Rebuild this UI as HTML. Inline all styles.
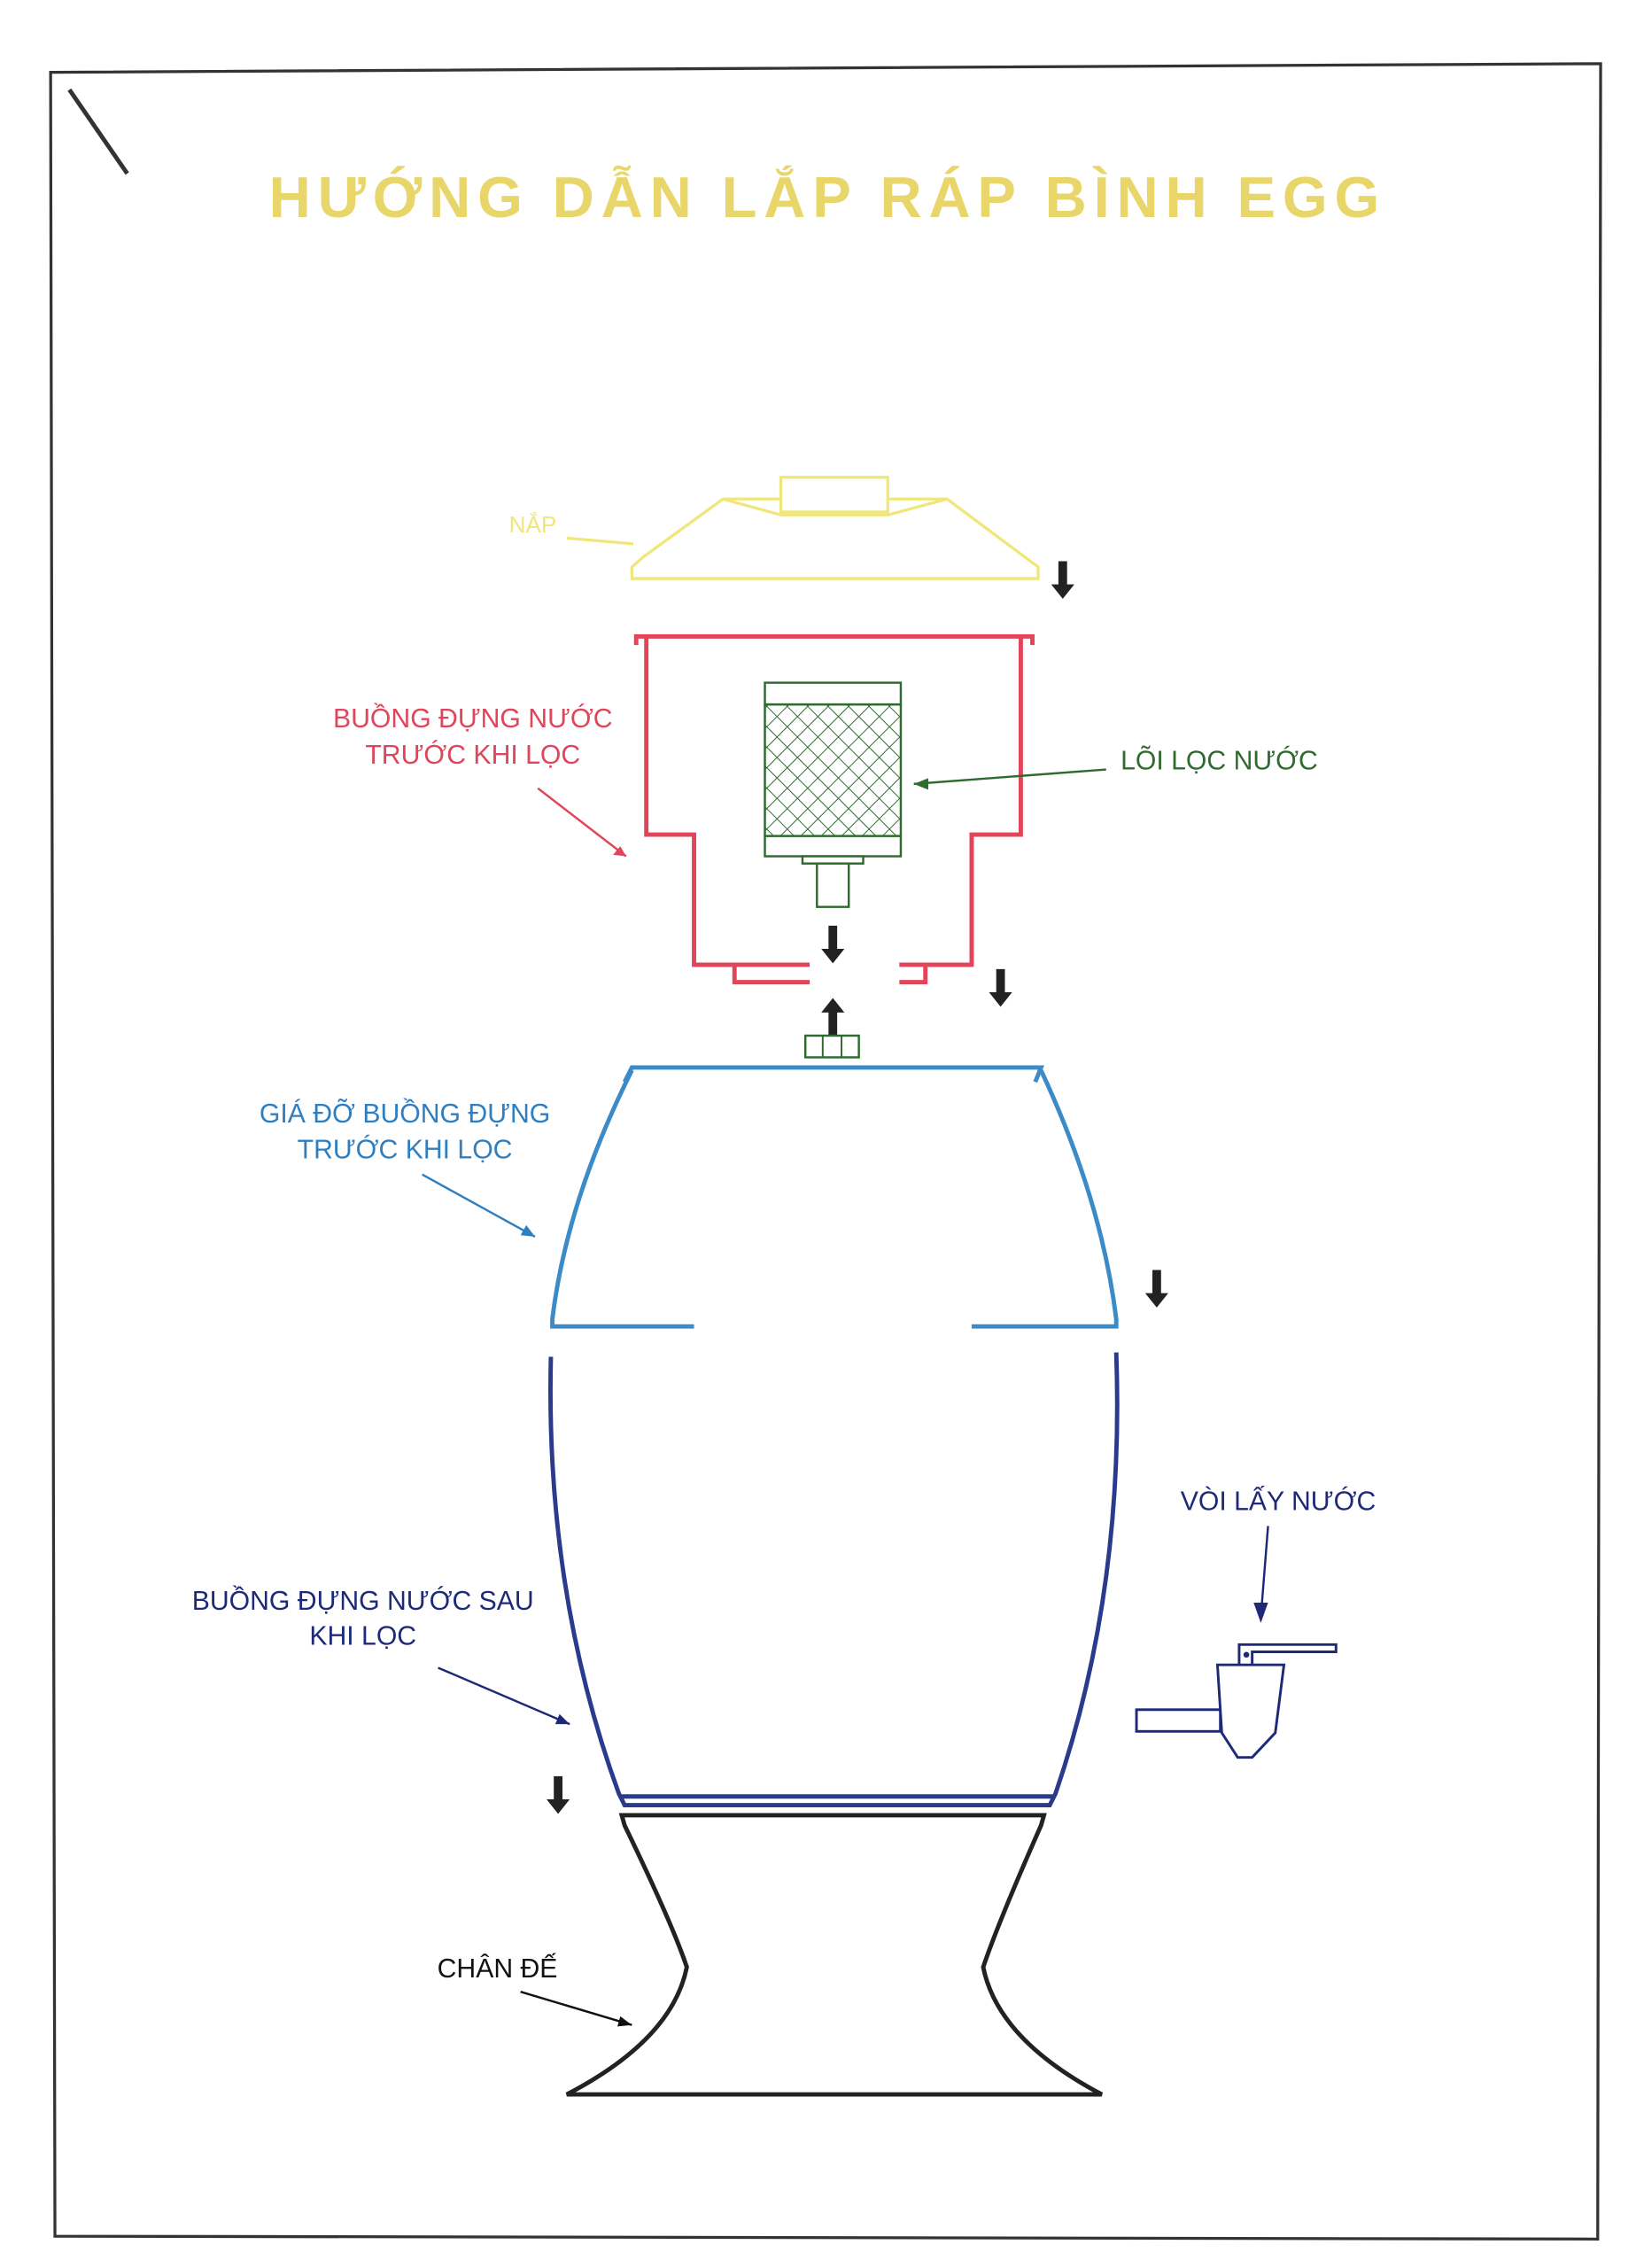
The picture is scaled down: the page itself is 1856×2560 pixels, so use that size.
<!DOCTYPE html>
<html><head><meta charset="utf-8"><style>
html,body{margin:0;padding:0;background:#fff}
svg{display:block}
text{font-family:"Liberation Sans",sans-serif}
</style></head><body>
<svg width="1856" height="2560" viewBox="0 0 1137 1568" preserveAspectRatio="none" xmlns="http://www.w3.org/2000/svg">
<defs>
<pattern id="mesh" width="10" height="10" patternUnits="userSpaceOnUse" patternTransform="rotate(45)">
<path d="M0 0H10M0 0V10" stroke="#2f6b2f" stroke-width="1.2"/>
</pattern>
<g id="ar"><path d="M-3 0H3V16H8L0 26L-8 16H-3Z" fill="#222"/></g>
</defs>
<rect width="1137" height="1568" fill="#fff"/>
<path d="M35 50L1107 44L1105 1548L38 1546Z" fill="none" stroke="#333" stroke-width="2"/>
<path d="M48 62L88 120" stroke="#333" stroke-width="3"/>
<text x="570" y="150" text-anchor="middle" font-size="40" font-weight="bold" fill="#e8d66a" textLength="768" lengthAdjust="spacing">HƯỚNG DẪN LẮP RÁP BÌNH EGG</text>

<!-- lid -->
<g fill="none" stroke="#efe77a" stroke-width="2">
<path d="M437 400H718V392L655 345H500L445 385L437 392Z"/>
<path d="M500 345L540 356H614L655 345"/>
<rect x="540" y="330" width="74" height="24" fill="#fff"/>
<path d="M392 372L438 376"/>
</g>
<text x="352" y="368" font-size="16" fill="#efe77a">NẮP</text>
<use href="#ar" x="735" y="388"/>

<!-- red chamber -->
<g fill="none" stroke="#e0455a" stroke-width="3">
<path d="M440 446V440H714V446M447 440V577H480V667H508V679H560M622 679H640V667H672V577H706V440"/>
<path d="M480 667H560M622 667H672"/>
</g>
<text x="327" y="503" text-anchor="middle" font-size="18.5" fill="#e0455a">BUỒNG ĐỰNG NƯỚC</text>
<text x="327" y="528" text-anchor="middle" font-size="18.5" fill="#e0455a">TRƯỚC KHI LỌC</text>
<path d="M372 545L433 592" stroke="#e0455a" stroke-width="1.5"/>
<path d="M433 592L424 591L429 585Z" fill="#e0455a"/>

<!-- filter -->
<g stroke="#2f6b2f" stroke-width="1.5">
<rect x="529" y="487" width="94" height="91" fill="url(#mesh)"/>
<rect x="529" y="472" width="94" height="15" fill="#fff"/>
<rect x="529" y="578" width="94" height="14" fill="#fff"/>
<rect x="555" y="592" width="42" height="5" fill="#fff"/>
<rect x="565" y="597" width="22" height="30" fill="#fff"/>
</g>
<path d="M765 532L632 542" stroke="#2f6b2f" stroke-width="1.5"/>
<path d="M632 542L642 538L642 546Z" fill="#2f6b2f"/>
<text x="775" y="532" font-size="18.5" fill="#2f6b2f">LÕI LỌC NƯỚC</text>

<use href="#ar" x="576" y="640"/>
<use href="#ar" x="692" y="670"/>
<g transform="translate(576,716) scale(1,-1)"><use href="#ar"/></g>
<rect x="557" y="716" width="37" height="15" fill="none" stroke="#2f6b2f" stroke-width="1.5"/>
<path d="M569 716V731M582 716V731" stroke="#2f6b2f" stroke-width="1.2"/>

<!-- blue holder -->
<g fill="none" stroke="#3a8bc8" stroke-width="3">
<path d="M432 748L437 738H720L716 748"/>
<path d="M437 740Q392 830 382 912V917H480"/>
<path d="M720 740Q762 830 772 912V917H672"/>
</g>
<text x="280" y="776" text-anchor="middle" font-size="18.5" fill="#2f7fc0">GIÁ ĐỠ BUỒNG ĐỰNG</text>
<text x="280" y="801" text-anchor="middle" font-size="18.5" fill="#2f7fc0">TRƯỚC KHI LỌC</text>
<path d="M292 812L370 855" stroke="#2f7fc0" stroke-width="1.5"/>
<path d="M370 855L360 854L364 847Z" fill="#2f7fc0"/>
<use href="#ar" x="800" y="878"/>

<!-- navy lower -->
<g fill="none" stroke="#2a3a8c" stroke-width="3">
<path d="M381 938Q377 1100 428 1240L432 1248H726L730 1240Q778 1100 772 935"/>
<path d="M430 1242H728"/>
</g>
<text x="251" y="1113" text-anchor="middle" font-size="18.5" fill="#1e2a78">BUỒNG ĐỰNG NƯỚC SAU</text>
<text x="251" y="1137" text-anchor="middle" font-size="18.5" fill="#1e2a78">KHI LỌC</text>
<path d="M303 1153L394 1192" stroke="#1e2a78" stroke-width="1.5"/>
<path d="M394 1192L384 1192L387 1185Z" fill="#1e2a78"/>
<use href="#ar" x="386" y="1228"/>

<!-- tap -->
<text x="884" y="1044" text-anchor="middle" font-size="18.5" fill="#1e2a78">VÒI LẤY NƯỚC</text>
<path d="M877 1055L872 1118" stroke="#1e2a78" stroke-width="1.5"/>
<path d="M872 1122L867 1108L877 1108Z" fill="#1e2a78"/>
<g fill="#fff" stroke="#1e2a78" stroke-width="1.8">
<rect x="786" y="1182" width="58" height="15"/>
<path d="M857 1151V1137H924V1142H866V1151"/>
<path d="M842 1151H888L882 1198L866 1215H856L845 1198Z"/>
</g>
<circle cx="862" cy="1144" r="2" fill="#1e2a78"/>

<!-- base -->
<g fill="none" stroke="#222" stroke-width="3">
<path d="M430 1255H722L720 1262Q690 1330 680 1360Q690 1410 762 1448H392Q465 1410 475 1360Q465 1330 432 1262Z"/>
</g>
<text x="344" y="1367" text-anchor="middle" font-size="18.5" fill="#111">CHÂN ĐẾ</text>
<path d="M360 1377L437 1400" stroke="#111" stroke-width="1.5"/>
<path d="M437 1400L427 1401L429 1394Z" fill="#111"/>
</svg>
</body></html>
